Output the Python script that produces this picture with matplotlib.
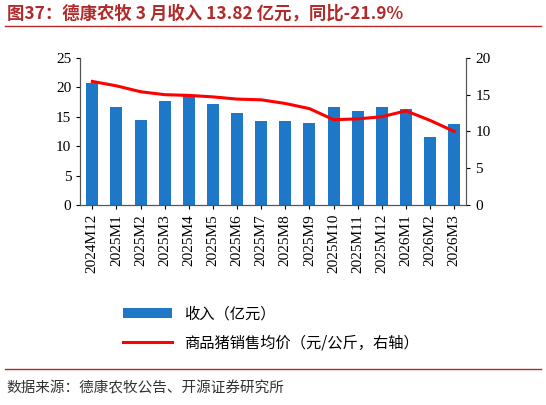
import matplotlib
matplotlib.use("Agg")
import matplotlib.pyplot as plt

plt.rcParams['font.family'] = ['Noto Sans CJK SC', 'DejaVu Sans']

months = ["2024M12","2025M1","2025M2","2025M3","2025M4","2025M5","2025M6","2025M7",
          "2025M8","2025M9","2025M10","2025M11","2025M12","2026M1","2026M2","2026M3"]
revenue = [20.8,16.7,14.5,17.7,18.5,17.1,15.7,14.3,14.3,14.0,16.6,16.0,16.6,16.3,11.5,13.82]
price = [16.8,16.2,15.4,15.0,14.9,14.7,14.4,14.3,13.8,13.1,11.6,11.7,12.0,12.8,11.5,10.0]

fig = plt.figure(figsize=(5.46,4.05), dpi=100)
ax = fig.add_axes([0.147, 0.494, 0.707, 0.363])
x = range(len(months))
b = ax.bar(x, revenue, width=0.5, color='#1F77C8', label='收入（亿元）')
ax.set_ylim(0,25); ax.set_yticks(range(0,26,5))
ax.set_xlim(-0.5, len(months)-0.5)
ax.set_xticks(list(x)); ax.set_xticklabels(months, rotation=90, fontsize=10.5, family=['Times New Roman','Liberation Serif','DejaVu Serif'])
ax2 = ax.twinx()
l, = ax2.plot(x, price, color='#FF0000', lw=2.2, label='商品猪销售均价（元/公斤，右轴）')
ax2.set_ylim(0,20); ax2.set_yticks(range(0,21,5))
for a in (ax, ax2):
    a.tick_params(labelsize=11, length=3)
    for s in a.spines.values(): s.set_color('#555555')
    for t in a.get_yticklabels(): t.set_family(['Liberation Serif','DejaVu Serif'])
ax2.spines['top'].set_visible(False); ax.spines['top'].set_visible(False)
fig.legend([b, l], ['收入（亿元）','商品猪销售均价（元/公斤，右轴）'], loc='upper left',
           bbox_to_anchor=(0.2, 0.28), frameon=False, fontsize=11, handlelength=3.2, labelspacing=0.8)
fig.text(0.012, 0.955, '图37：德康农牧 3 月收入 13.82 亿元，同比-21.9%', color='#B22A2A', fontsize=12.5, weight='bold')
fig.add_artist(plt.Line2D([0.01,0.99],[0.935,0.935], color='#B22A2A', lw=1))
fig.add_artist(plt.Line2D([0.01,0.99],[0.09,0.09], color='#B22A2A', lw=1))
fig.text(0.012, 0.03, '数据来源：德康农牧公告、开源证券研究所', fontsize=10.5, color='#333333')
fig.savefig('out.png', dpi=100)
